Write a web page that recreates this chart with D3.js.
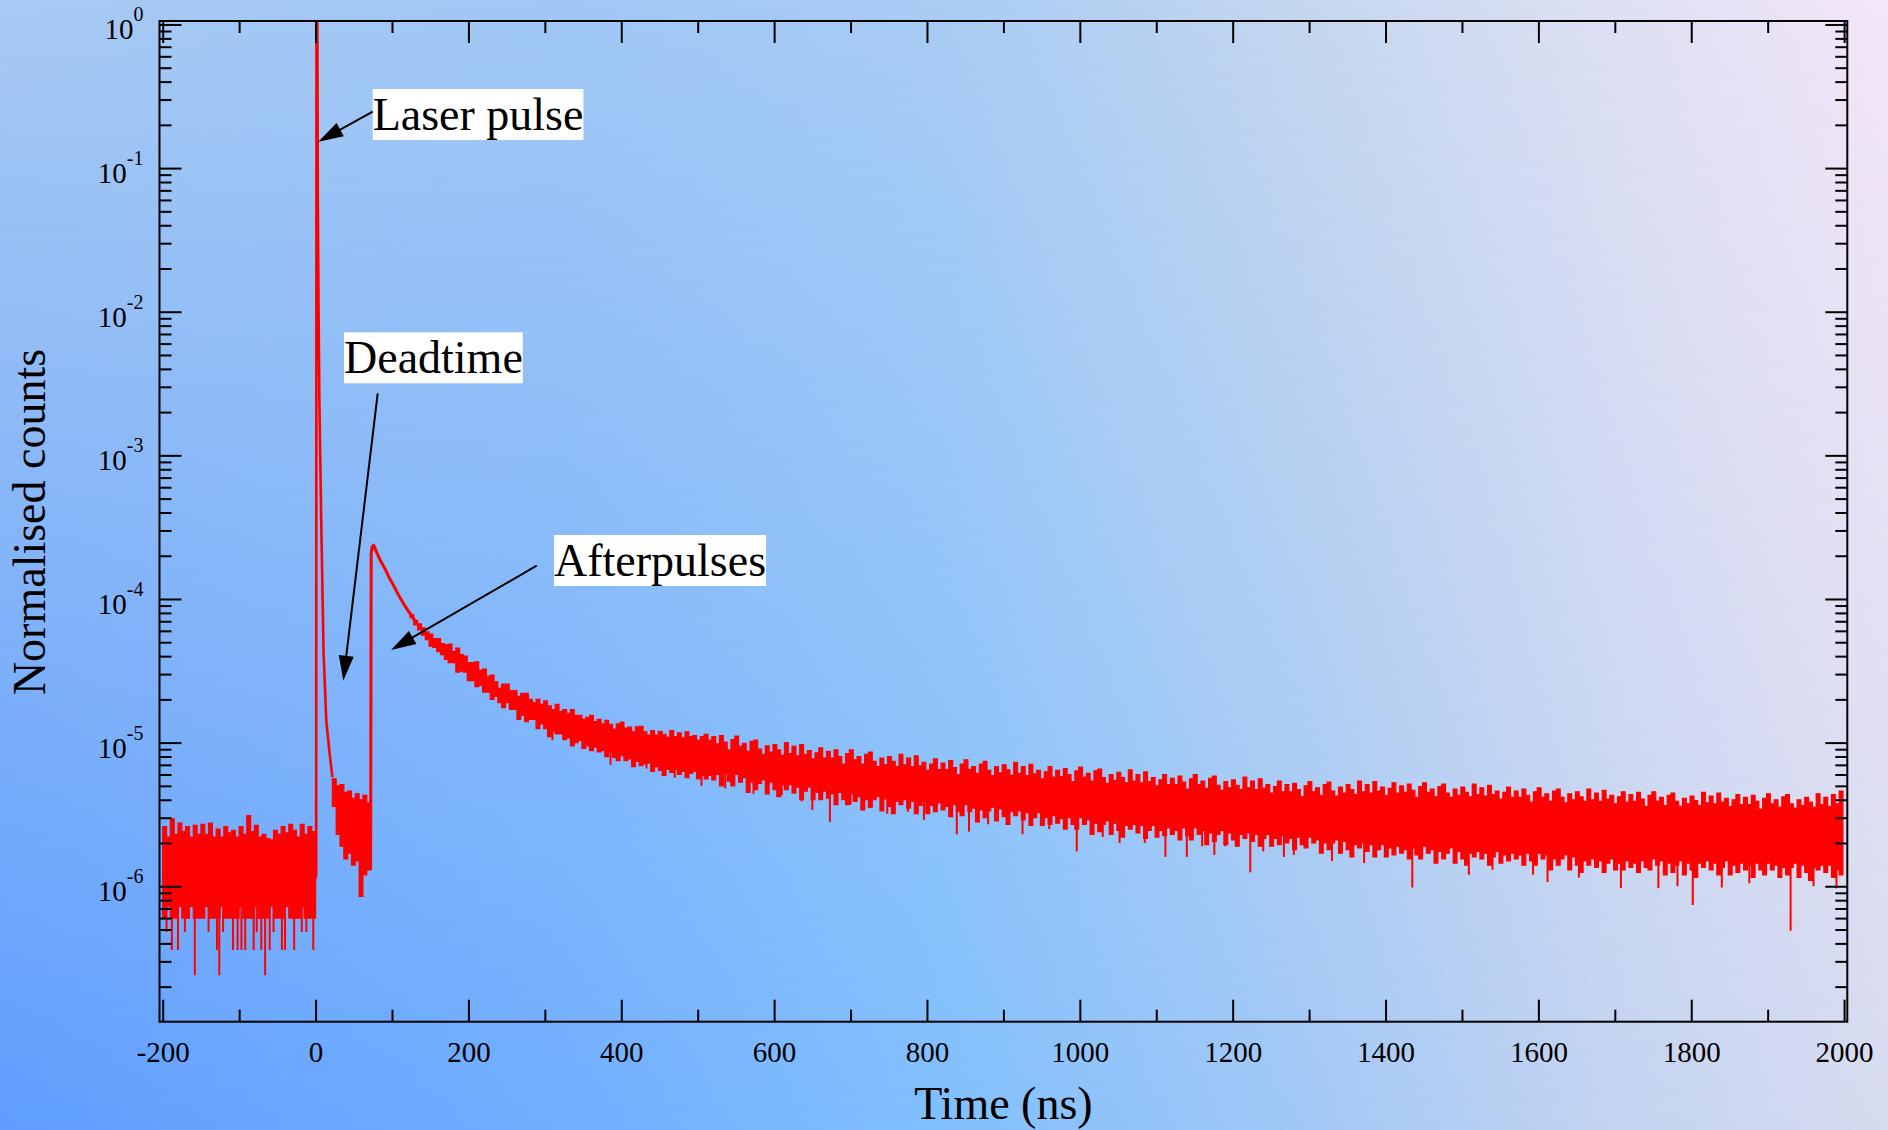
<!DOCTYPE html>
<html><head><meta charset="utf-8">
<script src="https://cdn.jsdelivr.net/npm/d3@7"></script>
<style>
html,body{margin:0;padding:0;background:#fff;}
svg{display:block;}
</style></head><body>
<svg id="chart" width="1888" height="1130"></svg>
<script>
// ---------------- DATA ----------------
const xMajorTicks = [-200,0,200,400,600,800,1000,1200,1400,1600,1800,2000];
const xMinorTicks = [-100,100,300,500,700,900,1100,1300,1500,1700,1900];
const yMajorTicks = [1,1e-1,1e-2,1e-3,1e-4,1e-5,1e-6];
const yExponents  = ["0","-1","-2","-3","-4","-5","-6"];
const xTitle = "Time (ns)";
const yTitle = "Normalised counts";
const annotationTexts = ["Laser pulse","Deadtime","Afterpulses"];

// background before the laser pulse, 5 ns bins starting at -200 ns
const baseHi = [2.6e-6,2.2e-6,2.95e-6,2.3e-6,2.75e-6,2.4e-6,2.6e-6,2.2e-6,2.65e-6,2.3e-6,
                2.7e-6,2.3e-6,2.75e-6,2.2e-6,2.5e-6,2.2e-6,2.6e-6,2.35e-6,2.45e-6,2.2e-6,
                2.6e-6,2.3e-6,3.1e-6,2.4e-6,2.65e-6,2.2e-6,2.3e-6,2.15e-6,2.1e-6,2.45e-6,
                2.3e-6,2.6e-6,2.35e-6,2.7e-6,2.45e-6,2.2e-6,2.7e-6,2.3e-6,2.6e-6,2.4e-6];
const baseLo = [6.0e-7,7.2e-7,6.0e-7,6.0e-7,7.2e-7,6.0e-7,6.0e-7,7.2e-7,6.0e-7,6.0e-7,
                6.0e-7,7.2e-7,6.0e-7,6.0e-7,6.0e-7,7.2e-7,6.0e-7,6.0e-7,6.0e-7,6.0e-7,
                7.2e-7,6.0e-7,6.0e-7,6.0e-7,7.2e-7,6.0e-7,6.0e-7,6.0e-7,7.2e-7,6.0e-7,
                6.0e-7,6.0e-7,7.2e-7,6.0e-7,6.0e-7,6.0e-7,7.2e-7,6.0e-7,6.0e-7,6.0e-7];

// laser pulse (rise, saturated top, fast decay)
const pulseTime  = [-1, 0.8, 1.2, 2.3, 3.0, 3.8, 5.0, 7.4, 10.5, 14, 18.3, 22];
const pulseValue = [1.1e-6, 1.2e-6, 1.1, 1.1, 0.06, 0.012, 2.4e-3, 3.5e-4, 4.2e-5, 1.43e-5, 8.5e-6, 5.75e-6];

// deadtime region, 5 ns bins starting at 22 ns
const deadHi = [5.6e-6,5.0e-6,5.1e-6,4.5e-6,4.6e-6,4.1e-6,4.4e-6,4.0e-6,4.3e-6,3.8e-6];
const deadLo = [3.6e-6,2.3e-6,1.9e-6,1.55e-6,1.7e-6,1.4e-6,1.5e-6,8.5e-7,1.2e-6,1.3e-6];

// afterpulse onset and early decay
const apTime  = [72, 72.8, 74, 76, 81, 86, 91, 96, 101, 106, 111, 116, 121, 126, 131];
const apValue = [1.3e-6, 2.1e-4, 2.3e-4, 2.37e-4, 2.05e-4, 1.8e-4, 1.62e-4, 1.42e-4, 1.27e-4, 1.13e-4, 1.01e-4, 9.1e-5, 8.3e-5, 7.6e-5, 6.9e-5];

// afterpulse tail, 5 ns bins starting at 123.5 ns (upper and lower edge of the noisy trace)
const tailHi = [
7.8e-5,7.1e-5,6.7e-5,6.3e-5,5.9e-5,5.7e-5,5.3e-5,5.3e-5,4.9e-5,4.8e-5,
4.85e-5,4.3e-5,4.55e-5,4.1e-5,4.0e-5,3.6e-5,3.6e-5,3.65e-5,3.2e-5,3.25e-5,
2.9e-5,2.95e-5,2.65e-5,2.4e-5,2.55e-5,2.55e-5,2.3e-5,2.3e-5,2.1e-5,2.2e-5,
2.2e-5,2.0e-5,1.9e-5,2.0e-5,1.85e-5,1.95e-5,1.8e-5,1.7e-5,1.85e-5,1.65e-5,
1.7e-5,1.6e-5,1.7e-5,1.55e-5,1.55e-5,1.45e-5,1.5e-5,1.55e-5,1.4e-5,1.45e-5,
1.35e-5,1.43e-5,1.34e-5,1.24e-5,1.35e-5,1.39e-5,1.26e-5,1.28e-5,1.19e-5,1.29e-5,
1.3e-5,1.19e-5,1.13e-5,1.21e-5,1.13e-5,1.2e-5,1.14e-5,1.09e-5,1.21e-5,1.1e-5,
1.17e-5,1.08e-5,1.19e-5,1.1e-5,1.12e-5,1.04e-5,1.1e-5,1.14e-5,1.04e-5,1.1e-5,
9.8e-6,1.12e-5,1.01e-5,8.9e-6,1.05e-5,1.11e-5,9.4e-6,9.9e-6,8.7e-6,1.02e-5,
1.04e-5,9.0e-6,8.3e-6,9.5e-6,8.6e-6,9.7e-6,8.9e-6,8.2e-6,1.0e-5,8.4e-6,
9.4e-6,8.1e-6,9.7e-6,8.3e-6,8.8e-6,7.7e-6,8.5e-6,9.2e-6,7.8e-6,8.7e-6,
7.8e-6,8.9e-6,8.0e-6,7.1e-6,8.4e-6,8.9e-6,7.6e-6,8.0e-6,7.1e-6,8.3e-6,
8.6e-6,7.4e-6,6.8e-6,7.8e-6,7.0e-6,8.0e-6,7.4e-6,6.8e-6,8.3e-6,7.0e-6,
7.8e-6,6.8e-6,8.1e-6,6.9e-6,7.3e-6,6.4e-6,7.1e-6,7.7e-6,6.5e-6,7.2e-6,
6.5e-6,7.5e-6,6.7e-6,6.0e-6,7.1e-6,7.6e-6,6.5e-6,6.8e-6,6.1e-6,7.1e-6,
7.4e-6,6.4e-6,5.9e-6,6.8e-6,6.15e-6,7.0e-6,6.45e-6,5.95e-6,7.3e-6,6.1e-6,
6.8e-6,5.9e-6,7.05e-6,6.05e-6,6.4e-6,5.6e-6,6.25e-6,6.8e-6,5.75e-6,6.4e-6,
5.8e-6,6.6e-6,6.0e-6,5.35e-6,6.35e-6,6.75e-6,5.75e-6,6.1e-6,5.4e-6,6.35e-6,
6.55e-6,5.7e-6,5.2e-6,6.0e-6,5.45e-6,6.2e-6,5.7e-6,5.25e-6,6.45e-6,5.4e-6,
6.0e-6,5.25e-6,6.25e-6,5.35e-6,5.7e-6,5.0e-6,5.5e-6,6.0e-6,5.1e-6,5.65e-6,
5.1e-6,5.85e-6,5.3e-6,4.75e-6,5.6e-6,6.0e-6,5.1e-6,5.4e-6,4.8e-6,5.65e-6,
5.85e-6,5.05e-6,4.65e-6,5.35e-6,4.85e-6,5.5e-6,5.05e-6,4.7e-6,5.75e-6,4.85e-6,
5.4e-6,4.7e-6,5.6e-6,4.8e-6,5.1e-6,4.45e-6,4.95e-6,5.4e-6,4.55e-6,5.1e-6,
4.55e-6,5.2e-6,4.7e-6,4.2e-6,5.0e-6,5.35e-6,4.55e-6,4.85e-6,4.3e-6,5.1e-6,
5.3e-6,4.6e-6,4.25e-6,4.9e-6,4.45e-6,5.1e-6,4.7e-6,4.35e-6,5.4e-6,4.55e-6,
5.1e-6,4.45e-6,5.35e-6,4.6e-6,4.9e-6,4.3e-6,4.8e-6,5.25e-6,4.45e-6,5.0e-6,
4.5e-6,5.15e-6,4.65e-6,4.15e-6,4.95e-6,5.25e-6,4.5e-6,4.75e-6,4.2e-6,4.95e-6,
5.15e-6,4.45e-6,4.15e-6,4.75e-6,4.3e-6,4.9e-6,4.5e-6,4.2e-6,5.15e-6,4.35e-6,
4.85e-6,4.25e-6,5.05e-6,4.35e-6,4.6e-6,4.05e-6,4.5e-6,4.9e-6,4.15e-6,4.6e-6,
4.15e-6,4.75e-6,4.3e-6,3.85e-6,4.55e-6,4.85e-6,4.15e-6,4.4e-6,3.9e-6,4.6e-6,
4.75e-6,4.15e-6,3.8e-6,4.4e-6,4.0e-6,4.55e-6,4.2e-6,3.9e-6,4.75e-6,4.0e-6,
4.45e-6,3.9e-6,4.65e-6,4.05e-6,4.3e-6,3.75e-6,4.2e-6,4.55e-6,3.85e-6,4.35e-6,
3.9e-6,4.5e-6,4.05e-6,3.6e-6,4.3e-6,4.55e-6,3.9e-6,4.15e-6,3.65e-6,4.3e-6,
4.45e-6,3.9e-6,3.6e-6,4.1e-6,3.75e-6,4.25e-6,3.95e-6,3.65e-6,4.5e-6,3.8e-6,
4.25e-6,3.75e-6,4.45e-6,3.85e-6,4.1e-6,3.6e-6,4.0e-6,4.35e-6,3.7e-6,4.15e-6,
3.7e-6,4.3e-6,3.9e-6,3.45e-6,4.1e-6,4.4e-6,3.75e-6,4.0e-6,3.55e-6,4.2e-6,
4.35e-6,3.75e-6,3.5e-6,4.0e-6,3.65e-6,4.15e-6,3.85e-6,3.55e-6,4.4e-6,3.7e-6,
4.15e-6,3.6e-6,4.35e-6,3.75e-6,4.6e-6];
const tailLo = [
7.4e-5,6.6e-5,6.1e-5,5.6e-5,5.2e-5,4.7e-5,4.6e-5,4.3e-5,4.1e-5,3.8e-5,
3.6e-5,3.6e-5,3.1e-5,3.15e-5,3.1e-5,2.7e-5,2.7e-5,2.45e-5,2.5e-5,2.25e-5,
2.25e-5,2.0e-5,2.1e-5,1.9e-5,1.75e-5,1.9e-5,1.7e-5,1.7e-5,1.45e-5,1.55e-5,
1.4e-5,1.45e-5,1.45e-5,1.25e-5,1.35e-5,1.25e-5,1.1e-5,1.2e-5,1.15e-5,1.15e-5,
1.05e-5,1.08e-5,9.5e-6,1.0e-5,1.03e-5,9.1e-6,9.5e-6,8.8e-6,9.3e-6,8.6e-6,
8.8e-6,8.0e-6,8.6e-6,7.9e-6,7.5e-6,8.1e-6,7.5e-6,7.7e-6,6.8e-6,7.4e-6,
6.9e-6,7.1e-6,7.2e-6,6.3e-6,6.8e-6,6.4e-6,5.9e-6,6.5e-6,6.2e-6,6.5e-6,
6.0e-6,6.3e-6,5.7e-6,6.1e-6,6.3e-6,5.6e-6,5.9e-6,5.6e-6,5.9e-6,5.5e-6,
6.0e-6,5.0e-6,6.1e-6,5.4e-6,5.0e-6,6.0e-6,5.3e-6,5.7e-6,4.5e-6,5.3e-6,
4.7e-6,5.2e-6,5.5e-6,4.4e-6,5.3e-6,4.7e-6,4.2e-6,5.1e-6,4.7e-6,5.1e-6,
4.45e-6,4.9e-6,4.0e-6,4.6e-6,4.9e-6,4.0e-6,4.5e-6,4.0e-6,4.6e-6,4.1e-6,
4.4e-6,3.7e-6,4.5e-6,4.0e-6,3.7e-6,4.4e-6,3.9e-6,4.2e-6,3.4e-6,4.0e-6,
3.55e-6,4.0e-6,4.2e-6,3.35e-6,4.05e-6,3.6e-6,3.2e-6,3.9e-6,3.7e-6,4.0e-6,
3.5e-6,3.9e-6,3.2e-6,3.65e-6,3.9e-6,3.2e-6,3.65e-6,3.3e-6,3.8e-6,3.4e-6,
3.6e-6,3.05e-6,3.7e-6,3.3e-6,3.1e-6,3.7e-6,3.3e-6,3.5e-6,2.8e-6,3.4e-6,
3.0e-6,3.35e-6,3.55e-6,2.85e-6,3.45e-6,3.05e-6,2.7e-6,3.3e-6,3.1e-6,3.35e-6,
2.9e-6,3.25e-6,2.65e-6,3.0e-6,3.25e-6,2.65e-6,3.0e-6,2.7e-6,3.1e-6,2.75e-6,
2.95e-6,2.5e-6,3.0e-6,2.7e-6,2.5e-6,3.0e-6,2.7e-6,2.9e-6,2.3e-6,2.75e-6,
2.4e-6,2.7e-6,2.85e-6,2.3e-6,2.75e-6,2.45e-6,2.2e-6,2.65e-6,2.5e-6,2.7e-6,
2.35e-6,2.65e-6,2.15e-6,2.45e-6,2.65e-6,2.2e-6,2.45e-6,2.25e-6,2.55e-6,2.3e-6,
2.45e-6,2.1e-6,2.55e-6,2.25e-6,2.1e-6,2.55e-6,2.3e-6,2.45e-6,1.95e-6,2.35e-6,
2.05e-6,2.3e-6,2.45e-6,1.95e-6,2.35e-6,2.1e-6,1.9e-6,2.3e-6,2.15e-6,2.35e-6,
2.05e-6,2.3e-6,1.9e-6,2.15e-6,2.3e-6,1.9e-6,2.15e-6,1.95e-6,2.25e-6,2.0e-6,
2.15e-6,1.8e-6,2.2e-6,1.95e-6,1.85e-6,2.2e-6,2.0e-6,2.1e-6,1.7e-6,2.0e-6,
1.8e-6,2.0e-6,2.1e-6,1.7e-6,2.05e-6,1.8e-6,1.6e-6,1.95e-6,1.85e-6,2.0e-6,
1.75e-6,1.95e-6,1.6e-6,1.8e-6,1.95e-6,1.6e-6,1.85e-6,1.65e-6,1.9e-6,1.7e-6,
1.8e-6,1.55e-6,1.85e-6,1.65e-6,1.55e-6,1.9e-6,1.7e-6,1.8e-6,1.45e-6,1.75e-6,
1.55e-6,1.7e-6,1.85e-6,1.45e-6,1.75e-6,1.55e-6,1.4e-6,1.7e-6,1.6e-6,1.75e-6,
1.55e-6,1.7e-6,1.4e-6,1.6e-6,1.75e-6,1.45e-6,1.65e-6,1.5e-6,1.7e-6,1.55e-6,
1.65e-6,1.4e-6,1.7e-6,1.5e-6,1.4e-6,1.7e-6,1.55e-6,1.65e-6,1.3e-6,1.55e-6,
1.4e-6,1.55e-6,1.65e-6,1.3e-6,1.6e-6,1.4e-6,1.25e-6,1.5e-6,1.4e-6,1.55e-6,
1.35e-6,1.5e-6,1.25e-6,1.45e-6,1.55e-6,1.3e-6,1.45e-6,1.3e-6,1.5e-6,1.35e-6,
1.45e-6,1.25e-6,1.5e-6,1.35e-6,1.3e-6,1.55e-6,1.4e-6,1.5e-6,1.2e-6,1.45e-6,
1.25e-6,1.4e-6,1.5e-6,1.2e-6,1.45e-6,1.3e-6,1.15e-6,1.45e-6,1.35e-6,1.5e-6,
1.3e-6,1.45e-6,1.2e-6,1.35e-6,1.5e-6,1.2e-6,1.4e-6,1.25e-6,1.45e-6,1.3e-6,
1.4e-6,1.15e-6,1.45e-6,1.3e-6,1.2e-6,1.45e-6,1.3e-6,1.4e-6,1.15e-6,1.35e-6,
1.2e-6,1.35e-6,1.45e-6,1.15e-6,1.4e-6,1.25e-6,1.1e-6,1.35e-6,1.3e-6,1.4e-6,
1.25e-6,1.4e-6,1.15e-6,1.3e-6,1.2e-6];

// isolated deep single-bin dips (time ns, value)
const spikeTime = [-195,-188,-180,-171,-158,-140,-129,-126,-121,-108,-102,-97,-92,-81,-77,-71,-66,-60,-55,-44,-40,-28,-18,-12,-3,
  310,386,433,470,505,536,573,610,636,650,673,700,724,748,775,796,839,855,880,925,960,996,1030,1052,1085,
  1112,1140,1160,1176,1190,1223,1240,1267,1280,1330,1372,1435,1509,1540,1593,1612,1653,1708,1757,1782,1802,1840,1876,1930,1960,1990];
const spikeValue = [4.8e-7,3.6e-7,3.6e-7,4.8e-7,2.4e-7,4.8e-7,3.6e-7,2.4e-7,4.8e-7,3.6e-7,3.6e-7,3.6e-7,3.6e-7,3.6e-7,4.8e-7,3.6e-7,2.4e-7,3.6e-7,4.8e-7,3.6e-7,3.6e-7,3.6e-7,4.8e-7,4.8e-7,3.6e-7,
  1.04e-5,7.0e-6,6.6e-6,5.7e-6,5.0e-6,4.8e-6,4.4e-6,4.3e-6,3.9e-6,3.4e-6,2.8e-6,3.7e-6,3.5e-6,3.2e-6,3.3e-6,2.9e-6,2.3e-6,2.4e-6,2.7e-6,2.3e-6,2.5e-6,1.75e-6,2.2e-6,2.0e-6,2.0e-6,
  1.6e-6,1.6e-6,1.9e-6,1.65e-6,1.9e-6,1.25e-6,1.75e-6,1.6e-6,1.65e-6,1.5e-6,1.45e-6,9.8e-7,1.2e-6,1.3e-6,1.2e-6,1.07e-6,1.15e-6,9.7e-7,9.7e-7,1.0e-6,7.4e-7,9.8e-7,1.05e-6,4.9e-7,1.0e-6,9.7e-7];

// ---------------- LAYOUT ----------------
const FONT = '"Liberation Serif","Times New Roman",Times,serif';
const RED = "#ff0000";
const M = {left:159.5, right:1847.3, top:21, bottom:1021.7};
const BIN = 5, BASE0 = -200, DEAD0 = 22, TAIL0 = 123.5;

const svg = d3.select("#chart");
const x = d3.scaleLinear().domain([-204.2, 2004.2]).range([M.left, M.right]);
const y = d3.scaleLog().domain([1.14e-7, 1.057]).range([M.bottom, M.top]);

// ---------- background ----------
const defs = svg.append("defs");
function hGrad(id, stops){
  const g = defs.append("linearGradient").attr("id",id).attr("x1",0).attr("y1",0).attr("x2",1).attr("y2",0);
  stops.forEach(s=>g.append("stop").attr("offset",s[0]).attr("stop-color",s[1]));
}
hGrad("bgTop",[[0,"#a8caf3"],[0.3,"#a2c8f5"],[0.5,"#a9ccf4"],[0.7,"#c6d8ef"],[0.85,"#dde0f3"],[1,"#f4e6f8"]]);
hGrad("bgBot",[[0,"#5f9dfe"],[0.3,"#70aeff"],[0.5,"#80bffd"],[0.7,"#a3c8f5"],[0.85,"#c2d3f1"],[1,"#d6dbef"]]);
const vg = defs.append("linearGradient").attr("id","vfade").attr("x1",0).attr("y1",0).attr("x2",0).attr("y2",1);
vg.append("stop").attr("offset",0).attr("stop-color","#000");
vg.append("stop").attr("offset",1).attr("stop-color","#fff");
defs.append("mask").attr("id","fadeMask").append("rect").attr("width",1888).attr("height",1130).attr("fill","url(#vfade)");
svg.append("rect").attr("width",1888).attr("height",1130).attr("fill","url(#bgTop)");
svg.append("rect").attr("width",1888).attr("height",1130).attr("fill","url(#bgBot)").attr("mask","url(#fadeMask)");

defs.append("clipPath").attr("id","plotClip").append("rect")
  .attr("x",M.left).attr("y",M.top).attr("width",M.right-M.left).attr("height",M.bottom-M.top);

// ---------- data marks ----------
const plot = svg.append("g").attr("clip-path","url(#plotClip)");
function binRows(t0, hi, lo){
  const rows = hi.map((h,i)=>({t:t0+i*BIN, hi:h, lo:lo[i]}));
  const last = rows[rows.length-1];
  rows.push({t:last.t+BIN, hi:last.hi, lo:last.lo});
  return rows;
}
const area = d3.area().x(d=>x(d.t)).y0(d=>y(d.lo)).y1(d=>y(d.hi)).curve(d3.curveStepAfter);
[[BASE0,baseHi,baseLo],[DEAD0,deadHi,deadLo],[TAIL0,tailHi,tailLo]].forEach(([t0,hi,lo])=>{
  plot.append("path").datum(binRows(t0,hi,lo)).attr("d",area)
    .attr("fill",RED).attr("stroke",RED).attr("stroke-width",1.2);
});
const line = d3.line().x(d=>x(d[0])).y(d=>y(d[1]));
plot.append("path").datum(pulseTime.map((t,i)=>[t,pulseValue[i]])).attr("d",line)
  .attr("fill","none").attr("stroke",RED).attr("stroke-width",2.6).attr("stroke-linejoin","round");
plot.append("path").datum(apTime.map((t,i)=>[t,apValue[i]])).attr("d",line)
  .attr("fill","none").attr("stroke",RED).attr("stroke-width",3).attr("stroke-linejoin","round");
// dips: thin vertical strokes from the middle of the trace down to the dip value
spikeTime.forEach((t,i)=>{
  let mid;
  if (t < 0) { const k = Math.floor((t-BASE0)/BIN); mid = Math.sqrt(baseHi[k]*baseLo[k]); }
  else { const k = Math.min(tailHi.length-1, Math.floor((t-TAIL0)/BIN)); mid = Math.sqrt(tailHi[k]*tailLo[k]); }
  plot.append("line").attr("x1",x(t)).attr("x2",x(t)).attr("y1",y(mid)).attr("y2",y(spikeValue[i]))
    .attr("stroke",RED).attr("stroke-width",2);
});

// ---------- axes ----------
function tidy(g){
  g.select(".domain").remove();
  g.selectAll(".tick line").attr("stroke","#000").attr("stroke-width",2);
}
const fmt = d=>String(d);
svg.append("g").attr("transform",`translate(0,${M.bottom})`)
  .call(d3.axisBottom(x).tickValues(xMajorTicks).tickSize(-22).tickFormat(fmt))
  .call(tidy)
  .attr("font-family",FONT).attr("font-size",29)
  .call(g=>g.selectAll("text").attr("y",40.5).attr("dy",0).attr("fill","#000"));
svg.append("g").attr("transform",`translate(0,${M.bottom})`)
  .call(d3.axisBottom(x).tickValues(xMinorTicks).tickSize(-12).tickFormat(""))
  .call(tidy);
svg.append("g").attr("transform",`translate(0,${M.top})`)
  .call(d3.axisTop(x).tickValues(xMajorTicks).tickSize(-22).tickFormat(""))
  .call(tidy);
svg.append("g").attr("transform",`translate(0,${M.top})`)
  .call(d3.axisTop(x).tickValues(xMinorTicks).tickSize(-12).tickFormat(""))
  .call(tidy);

const yMinorTicks = [];
for (let e=-7; e<=-1; e++) for (let m=2; m<=9; m++) {
  const v = m*Math.pow(10,e);
  if (v>y.domain()[0] && v<y.domain()[1]) yMinorTicks.push(v);
}
[[d3.axisLeft, M.left],[d3.axisRight, M.right]].forEach(([ax,pos])=>{
  svg.append("g").attr("transform",`translate(${pos},0)`)
    .call(ax(y).tickValues(yMajorTicks).tickSize(-22).tickFormat("")).call(tidy);
  svg.append("g").attr("transform",`translate(${pos},0)`)
    .call(ax(y).tickValues(yMinorTicks).tickSize(-12).tickFormat("")).call(tidy);
});

// y tick labels with superscript exponents
const yl = svg.append("g").attr("font-family",FONT).attr("fill","#000");
yMajorTicks.forEach((v,i)=>{
  const t = yl.append("text").attr("x",143.5).attr("y",y(v)+15).attr("text-anchor","end").attr("font-size",29);
  t.append("tspan").text("10");
  t.append("tspan").attr("font-size",20).attr("dy",-18).text(yExponents[i]);
});

// frame
svg.append("rect").attr("x",M.left).attr("y",M.top).attr("width",M.right-M.left).attr("height",M.bottom-M.top)
  .attr("fill","none").attr("stroke","#000").attr("stroke-width",2);

// axis titles
svg.append("text").attr("x",1003.4).attr("y",1119).attr("text-anchor","middle")
  .attr("font-family",FONT).attr("font-size",46).attr("fill","#000").text(xTitle);
svg.append("text").attr("transform","translate(45,522) rotate(-90)").attr("text-anchor","middle")
  .attr("font-family",FONT).attr("font-size",46).attr("fill","#000").text(yTitle);

// ---------- annotations ----------
const notes = [
  {text:annotationTexts[0], tx:372.7, ty:130,   from:[372.7,111.7], to:[318.3,141.7]},
  {text:annotationTexts[1], tx:344,   ty:373.3, from:[377.7,393.3], to:[343.3,680.7]},
  {text:annotationTexts[2], tx:554,   ty:576,   from:[536.7,565.7], to:[391,650]}
];
const ann = svg.append("g");
notes.forEach(n=>{
  const g = ann.append("g");
  const r = g.append("rect").attr("fill","#fff");
  const t = g.append("text").attr("x",n.tx).attr("y",n.ty).attr("font-family",FONT)
    .attr("font-size",46).attr("fill","#000").text(n.text);
  const bb = t.node().getBBox();
  r.attr("x",bb.x).attr("y",bb.y).attr("width",bb.width).attr("height",bb.height);
  const [x1,y1] = n.from, [x2,y2] = n.to;
  const dx = x2-x1, dy = y2-y1, L = Math.hypot(dx,dy), ux = dx/L, uy = dy/L;
  const hl = 25, hw = 7.5;
  const bx = x2-ux*hl, by = y2-uy*hl;
  g.append("line").attr("x1",x1).attr("y1",y1).attr("x2",bx+ux*2).attr("y2",by+uy*2)
    .attr("stroke","#000").attr("stroke-width",2);
  g.append("path").attr("d",`M${x2},${y2}L${bx-uy*hw},${by+ux*hw}L${bx+uy*hw},${by-ux*hw}Z`).attr("fill","#000");
});
</script></body></html>
